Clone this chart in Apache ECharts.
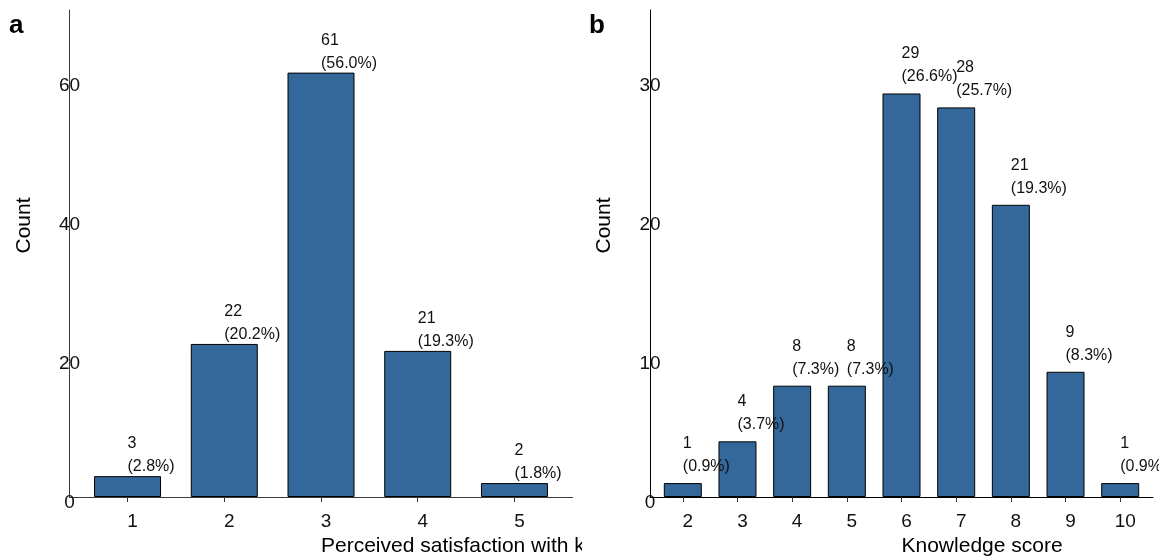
<!DOCTYPE html>
<html><head><meta charset="utf-8">
<script src="https://cdn.jsdelivr.net/npm/echarts@6/dist/echarts.min.js"></script>
<style>
html,body{margin:0;padding:0;background:#fff;}
#wrap{position:relative;width:1159px;height:558px;overflow:hidden;background:#fff;}
#ca{position:absolute;left:0;top:0;width:582px;height:558px;}
#cb{position:absolute;left:582px;top:0;width:577px;height:558px;}
</style></head><body>
<div id="wrap"><div id="ca"></div><div id="cb"></div></div>
<script>
// Panel a: perceived satisfaction
const satCategories = [1, 2, 3, 4, 5];
const satCounts = [3, 22, 61, 21, 2];
const satPercents = ['2.8', '20.2', '56.0', '19.3', '1.8'];
const satYTicks = [0, 20, 40, 60];
// Panel b: knowledge score
const knowCategories = [2, 3, 4, 5, 6, 7, 8, 9, 10];
const knowCounts = [1, 4, 8, 8, 29, 28, 21, 9, 1];
const knowPercents = ['0.9', '3.7', '7.3', '7.3', '26.6', '25.7', '19.3', '8.3', '0.9'];
const knowYTicks = [0, 10, 20, 30];

const FONT = '"Liberation Sans", Arial, Helvetica, sans-serif';
const BAR = '#34689b';

function makeOption(c) {
  return {
    animation: false,
    backgroundColor: '#fff',
    textStyle: { fontFamily: FONT },
    grid: { left: c.left, right: c.right, top: 10, bottom: 61, containLabel: false, outerBoundsMode: 'none' },
    graphic: [{
      type: 'text', left: c.letterX, top: 13,
      style: { text: c.letter, fontFamily: FONT, fontSize: 26, fontWeight: 'bold', fill: '#000' }
    }],
    xAxis: {
      type: 'value', min: c.xMin, max: c.xMax,
      splitLine: { show: false },
      axisLine: { show: true, lineStyle: { color: c.axisColor, width: 1 } },
      axisTick: { show: true, customValues: c.cats, length: 5, lineStyle: { color: '#333' } },
      axisLabel: { customValues: c.cats, margin: 15, fontSize: 19, color: '#111', fontFamily: FONT, padding: [0, 0, 0, 10] },
      name: c.xName, nameLocation: 'middle', nameGap: 37,
      nameTextStyle: { fontSize: 21, color: '#000', fontFamily: FONT, align: 'left' }
    },
    yAxis: {
      type: 'value', min: 0, max: c.yMax,
      splitLine: { show: false },
      axisLine: { show: true, lineStyle: { color: c.axisColor, width: 1 } },
      axisTick: { show: false },
      axisLabel: { customValues: c.yTicks, margin: 0, align: 'center', verticalAlign: 'top', lineHeight: 12, fontSize: 19, color: '#111', fontFamily: FONT },
      name: 'Count', nameLocation: 'middle', nameGap: 35, nameRotate: 90,
      nameTextStyle: { fontSize: 21, color: '#000', fontFamily: FONT, align: 'left' }
    },
    series: [{
      type: 'bar',
      data: c.cats.map((v, i) => [v, c.counts[i]]),
      barWidth: c.barWidth,
      itemStyle: { color: BAR, borderColor: '#000', borderWidth: 1 },
      label: {
        show: true, position: 'top', distance: c.labelDist, align: 'left',
        fontSize: 16, lineHeight: 23, color: '#111', fontFamily: FONT,
        formatter: p => p.value[1] + '\n(' + c.pcts[p.dataIndex] + '%)'
      }
    }]
  };
}

const ca = echarts.init(document.getElementById('ca'), null, { renderer: 'canvas' });
ca.setOption(makeOption({
  left: 69.5, right: 9.5, letter: 'a', letterX: 9,
  xMin: 0.4, xMax: 5.6, cats: satCategories, counts: satCounts, pcts: satPercents,
  yMax: 70, yTicks: satYTicks, barWidth: 67, labelDist: -2,
  xName: 'Perceived satisfaction with knowledge', axisColor: '#3a3a3a'
}));

const cb = echarts.init(document.getElementById('cb'), null, { renderer: 'canvas' });
cb.setOption(makeOption({
  left: 68, right: 6, letter: 'b', letterX: 7,
  xMin: 1.4, xMax: 10.6, cats: knowCategories, counts: knowCounts, pcts: knowPercents,
  yMax: 35, yTicks: knowYTicks, barWidth: 38, labelDist: 5,
  xName: 'Knowledge score', axisColor: '#000'
}));
</script>
</body></html>
